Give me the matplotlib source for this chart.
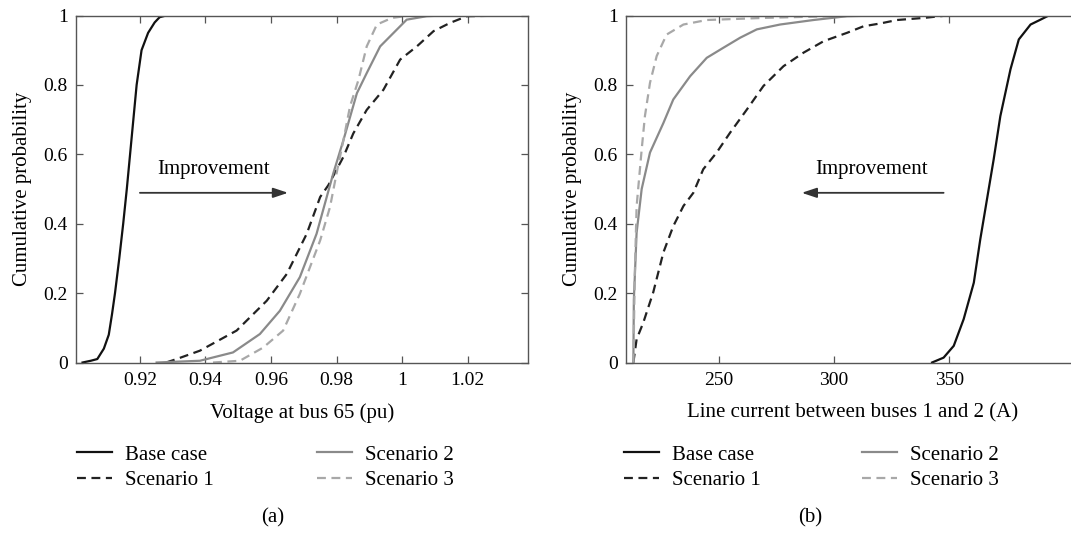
import matplotlib
matplotlib.use("Agg")
import matplotlib.pyplot as plt
from matplotlib.lines import Line2D

plt.rcParams['font.family'] = ['Liberation Serif', 'DejaVu Serif']

# ---------------- data (a): voltage at bus 65 ----------------
base_v_x = [0.9025, 0.905, 0.907, 0.909, 0.9105, 0.9115, 0.9124, 0.9137, 0.9149, 0.916, 0.917, 0.918, 0.919, 0.9205, 0.9225, 0.9245, 0.926, 0.928, 0.930]
base_v_y = [0.0, 0.005, 0.01, 0.04, 0.08, 0.14, 0.2, 0.3, 0.4, 0.5, 0.6, 0.7, 0.8, 0.9, 0.95, 0.98, 0.995, 1.0, 1.0]

s1_v_x = [0.928, 0.9312, 0.9383, 0.9495, 0.9587, 0.9648, 0.9709, 0.975, 0.9775, 0.9821, 0.9851, 0.9892, 0.9943, 0.9994, 1.0045, 1.0096, 1.0147, 1.0198, 1.0335]
s1_v_y = [0.0, 0.01, 0.034, 0.092, 0.178, 0.255, 0.371, 0.477, 0.511, 0.593, 0.66, 0.728, 0.786, 0.873, 0.911, 0.955, 0.979, 0.998, 1.0]

s2_v_x = [0.9251, 0.9383, 0.9484, 0.9566, 0.9627, 0.9688, 0.9739, 0.977, 0.979, 0.9821, 0.9862, 0.9892, 0.9933, 0.9974, 1.0014, 1.0075, 1.0126]
s2_v_y = [0.0, 0.005, 0.029, 0.082, 0.149, 0.246, 0.371, 0.477, 0.545, 0.641, 0.776, 0.834, 0.911, 0.95, 0.988, 0.998, 1.0]

s3_v_x = [0.9423, 0.9505, 0.9576, 0.9637, 0.9688, 0.9719, 0.975, 0.978, 0.98, 0.9821, 0.9841, 0.9867, 0.9892, 0.9923, 0.9969, 1.0024]
s3_v_y = [0.0, 0.005, 0.043, 0.092, 0.198, 0.275, 0.352, 0.448, 0.545, 0.641, 0.738, 0.815, 0.911, 0.974, 0.993, 1.0]

# ---------------- data (b): line current between buses 1 and 2 ----------------
base_i_x = [342.5, 347.5, 351.9, 356.2, 360.6, 363.4, 366.3, 369.2, 372.1, 376.5, 380.1, 385.2, 389.5, 393.1, 400.0]
base_i_y = [0.0, 0.014, 0.048, 0.125, 0.23, 0.355, 0.47, 0.585, 0.71, 0.845, 0.931, 0.974, 0.988, 1.0, 1.0]

s1_i_x = [213.0, 214.4, 217.3, 221.6, 226.0, 230.3, 234.7, 239.0, 243.3, 249.1, 254.9, 262.2, 269.4, 278.1, 286.8, 295.5, 305.6, 312.8, 320.0, 327.3, 338.8, 349.0]
s1_i_y = [0.0, 0.067, 0.115, 0.202, 0.317, 0.393, 0.451, 0.489, 0.557, 0.605, 0.662, 0.729, 0.797, 0.854, 0.893, 0.926, 0.95, 0.969, 0.977, 0.987, 0.993, 1.0]

s2_i_x = [213.0, 213.2, 214.4, 216.6, 220.2, 226.0, 230.3, 237.6, 244.8, 252.0, 259.3, 266.5, 276.6, 291.1, 305.6, 320.0]
s2_i_y = [0.0, 0.18, 0.374, 0.5, 0.605, 0.69, 0.758, 0.825, 0.878, 0.907, 0.936, 0.96, 0.974, 0.987, 0.998, 1.0]

s3_i_x = [213.0, 213.6, 214.4, 216.6, 218.0, 220.2, 223.1, 227.4, 234.7, 244.8, 269.4, 298.3, 320.0]
s3_i_y = [0.0, 0.25, 0.45, 0.614, 0.71, 0.806, 0.883, 0.945, 0.974, 0.987, 0.993, 0.998, 1.0]

labels = ["Base case", "Scenario 1", "Scenario 2", "Scenario 3"]
v_ticks = [0.92, 0.94, 0.96, 0.98, 1.0, 1.02]
v_ticklabels = ["0.92", "0.94", "0.96", "0.98", "1", "1.02"]
i_ticks = [250, 300, 350]
y_ticks = [0, 0.2, 0.4, 0.6, 0.8, 1.0]
y_ticklabels = ["0", "0.2", "0.4", "0.6", "0.8", "1"]

styles = [
    dict(color="#111111", lw=1.6, ls="-"),
    dict(color="#222222", lw=1.6, ls=(0, (4, 2.5))),
    dict(color="#8a8a8a", lw=1.6, ls="-"),
    dict(color="#a8a8a8", lw=1.6, ls=(0, (4, 2.5))),
]

W, H = 1071, 537
fig = plt.figure(figsize=(W / 100, H / 100), dpi=100)

def px_axes(x0, y0, x1, y1):
    return fig.add_axes([x0 / W, 1 - y1 / H, (x1 - x0) / W, (y1 - y0) / H])

axa = px_axes(76, 15.5, 528.3, 362.5)
axb = px_axes(626, 15.5, 1078.3, 362.5)

FS = 15
FT = 14

def style_axes(ax):
    for sp in ax.spines.values():
        sp.set_color("#555555")
        sp.set_linewidth(1.0)
    ax.tick_params(direction="in", top=True, right=True, length=5, width=0.9,
                   color="#555555", labelsize=FT)
    ax.tick_params(axis="x", pad=7)
    ax.tick_params(axis="y", pad=6)
    ax.set_ylim(0, 1)
    ax.set_yticks(y_ticks)
    ax.set_yticklabels(y_ticklabels)
    ax.set_ylabel("Cumulative probability", fontsize=FS, labelpad=8)

# (a)
for (xs, ys), st in zip([(base_v_x, base_v_y), (s1_v_x, s1_v_y), (s2_v_x, s2_v_y), (s3_v_x, s3_v_y)], styles):
    axa.plot(xs, ys, **st)
axa.set_xlim(0.9005, 1.0385)
axa.set_xticks(v_ticks)
axa.set_xticklabels(v_ticklabels)
style_axes(axa)
axa.set_xlabel("Voltage at bus 65 (pu)", fontsize=FS, labelpad=10)
axa.annotate("", xy=(0.9652, 0.489), xytext=(0.9200, 0.489),
             arrowprops=dict(arrowstyle="-|>,head_length=0.9,head_width=0.3",
                             color="#333333", lw=1.3, shrinkA=0, shrinkB=0))
axa.text(0.9424, 0.555, "Improvement", ha="center", va="center", fontsize=FS)

# (b)
for (xs, ys), st in zip([(base_i_x, base_i_y), (s1_i_x, s1_i_y), (s2_i_x, s2_i_y), (s3_i_x, s3_i_y)], styles):
    axb.plot(xs, ys, **st)
axb.set_xlim(209.8, 405.9)
axb.set_xticks(i_ticks)
style_axes(axb)
axb.set_xlabel("Line current between buses 1 and 2 (A)", fontsize=FS, labelpad=10)
axb.annotate("", xy=(286.0, 0.489), xytext=(347.5, 0.489),
             arrowprops=dict(arrowstyle="-|>,head_length=0.9,head_width=0.3",
                             color="#333333", lw=1.3, shrinkA=0, shrinkB=0))
axb.text(316.4, 0.555, "Improvement", ha="center", va="center", fontsize=FS)

# legends: two single-column legends per panel
handles = [Line2D([], [], **st) for st in styles]
col_pos = [(77, [0, 1]), (317, [2, 3]), (624, [0, 1]), (862, [2, 3])]
for x0, idx in col_pos:
    fig.legend([handles[i] for i in idx], [labels[i] for i in idx], loc="upper left",
               bbox_to_anchor=(x0 / W, 1 - 445 / H), ncol=1, frameon=False,
               fontsize=FS, handlelength=1.7, handletextpad=0.6,
               labelspacing=0.3, borderpad=0, borderaxespad=0)

fig.text(273 / W, 1 - 518 / H, "(a)", ha="center", va="center", fontsize=FS)
fig.text(810 / W, 1 - 518 / H, "(b)", ha="center", va="center", fontsize=FS)

fig.savefig("out.png", dpi=100)
